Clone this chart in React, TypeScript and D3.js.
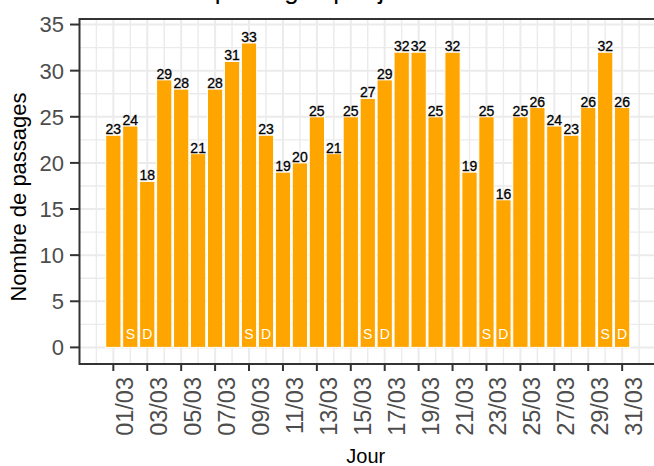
import React from "react";
import * as d3 from "d3";

const days = [1, 2, 3, 4, 5, 6, 7, 8, 9, 10, 11, 12, 13, 14, 15, 16, 17, 18, 19, 20, 21, 22, 23, 24, 25, 26, 27, 28, 29, 30, 31];
const passages = [23, 24, 18, 29, 28, 21, 28, 31, 33, 23, 19, 20, 25, 21, 25, 27, 29, 32, 32, 25, 32, 19, 25, 16, 25, 26, 24, 23, 26, 32, 26];
const weekendMarks = ["", "S", "D", "", "", "", "", "", "S", "D", "", "", "", "", "", "S", "D", "", "", "", "", "", "S", "D", "", "", "", "", "", "S", "D"];
const tickDays = [1, 3, 5, 7, 9, 11, 13, 15, 17, 19, 21, 23, 25, 27, 29, 31];
const tickLabels = ["01/03", "03/03", "05/03", "07/03", "09/03", "11/03", "13/03", "15/03", "17/03", "19/03", "21/03", "23/03", "25/03", "27/03", "29/03", "31/03"];
const yTicks = [0, 5, 10, 15, 20, 25, 30, 35];
const yMinor = [2.5, 7.5, 12.5, 17.5, 22.5, 27.5, 32.5];
const xMinor = [0, 2, 4, 6, 8, 10, 12, 14, 16, 18, 20, 22, 24, 26, 28, 30, 32];

const W = 654;
const H = 466;
const P = { left: 79.5, right: 656, top: 19, bottom: 364 };
const FONT = "'Liberation Sans', Arial, Helvetica, sans-serif";

export default function App() {
  const x = d3.scaleLinear().domain([-0.995, 32.995]).range([P.left, P.right]);
  const y = d3.scaleLinear().domain([-1.8, 35.6]).range([P.bottom, P.top]);
  const half = 0.45;
  const grid = "#ebebeb";
  return (
    <svg width={W} height={H} style={{ position: "absolute", left: 0, top: 0, display: "block", background: "#fff" }} fontFamily={FONT}>
      <rect x={0} y={0} width={W} height={H} fill="#fff" />
      <text x={79} y={-1} fontSize={26} fill="#000">Nombre de passages par jour</text>
      <defs>
        <clipPath id="panel">
          <rect x={P.left} y={P.top} width={P.right - P.left} height={P.bottom - P.top} />
        </clipPath>
      </defs>
      <g clipPath="url(#panel)">
        {yMinor.map((v) => (
          <line key={"ym" + v} x1={P.left} x2={P.right} y1={y(v)} y2={y(v)} stroke={grid} strokeWidth={1.4} />
        ))}
        {yTicks.map((v) => (
          <line key={"yM" + v} x1={P.left} x2={P.right} y1={y(v)} y2={y(v)} stroke={grid} strokeWidth={2} />
        ))}
        {xMinor.map((v) => (
          <line key={"xm" + v} x1={x(v)} x2={x(v)} y1={P.top} y2={P.bottom} stroke={grid} strokeWidth={1.4} />
        ))}
        {tickDays.map((v) => (
          <line key={"xM" + v} x1={x(v)} x2={x(v)} y1={P.top} y2={P.bottom} stroke={grid} strokeWidth={2} />
        ))}
        {days.map((d, i) => (
          <rect
            key={"b" + d}
            x={x(d - half)}
            y={y(passages[i])}
            width={x(d + half) - x(d - half)}
            height={y(0) - y(passages[i])}
            fill="#FFA500"
            stroke="#fff"
            strokeWidth={1}
          />
        ))}
        {days.map((d, i) => (
          <text key={"l" + d} x={x(d)} y={y(passages[i]) - 1} fontSize={14} textAnchor="middle" fill="#000" stroke="#000" strokeWidth={0.3}>
            {passages[i]}
          </text>
        ))}
        {days.map((d, i) =>
          weekendMarks[i] ? (
            <text key={"w" + d} x={x(d)} y={339} fontSize={14} textAnchor="middle" fill="#fff">
              {weekendMarks[i]}
            </text>
          ) : null
        )}
      </g>
      <rect x={P.left} y={P.top} width={P.right - P.left} height={P.bottom - P.top} fill="none" stroke="#333" strokeWidth={2} />
      {yTicks.map((v) => (
        <g key={"yt" + v}>
          <line x1={70} x2={P.left} y1={y(v)} y2={y(v)} stroke="#333" strokeWidth={2} />
          <text x={64} y={y(v)} dy="0.36em" fontSize={22} textAnchor="end" fill="#4d4d4d">
            {v}
          </text>
        </g>
      ))}
      {tickDays.map((v, i) => (
        <g key={"xt" + v}>
          <line x1={x(v)} x2={x(v)} y1={P.bottom} y2={371} stroke="#333" strokeWidth={2} />
          <text
            transform={`translate(${x(v) + 20},377) rotate(-90)`}
            fontSize={23.5}
            textAnchor="end"
            fill="#4d4d4d"
          >
            {tickLabels[i]}
          </text>
        </g>
      ))}
      <text x={(P.left + P.right) / 2 - 2} y={463} fontSize={20} textAnchor="middle" fill="#000">Jour</text>
      <text transform={`translate(26,197) rotate(-90)`} fontSize={22} textAnchor="middle" fill="#000">Nombre de passages</text>
    </svg>
  );
}
